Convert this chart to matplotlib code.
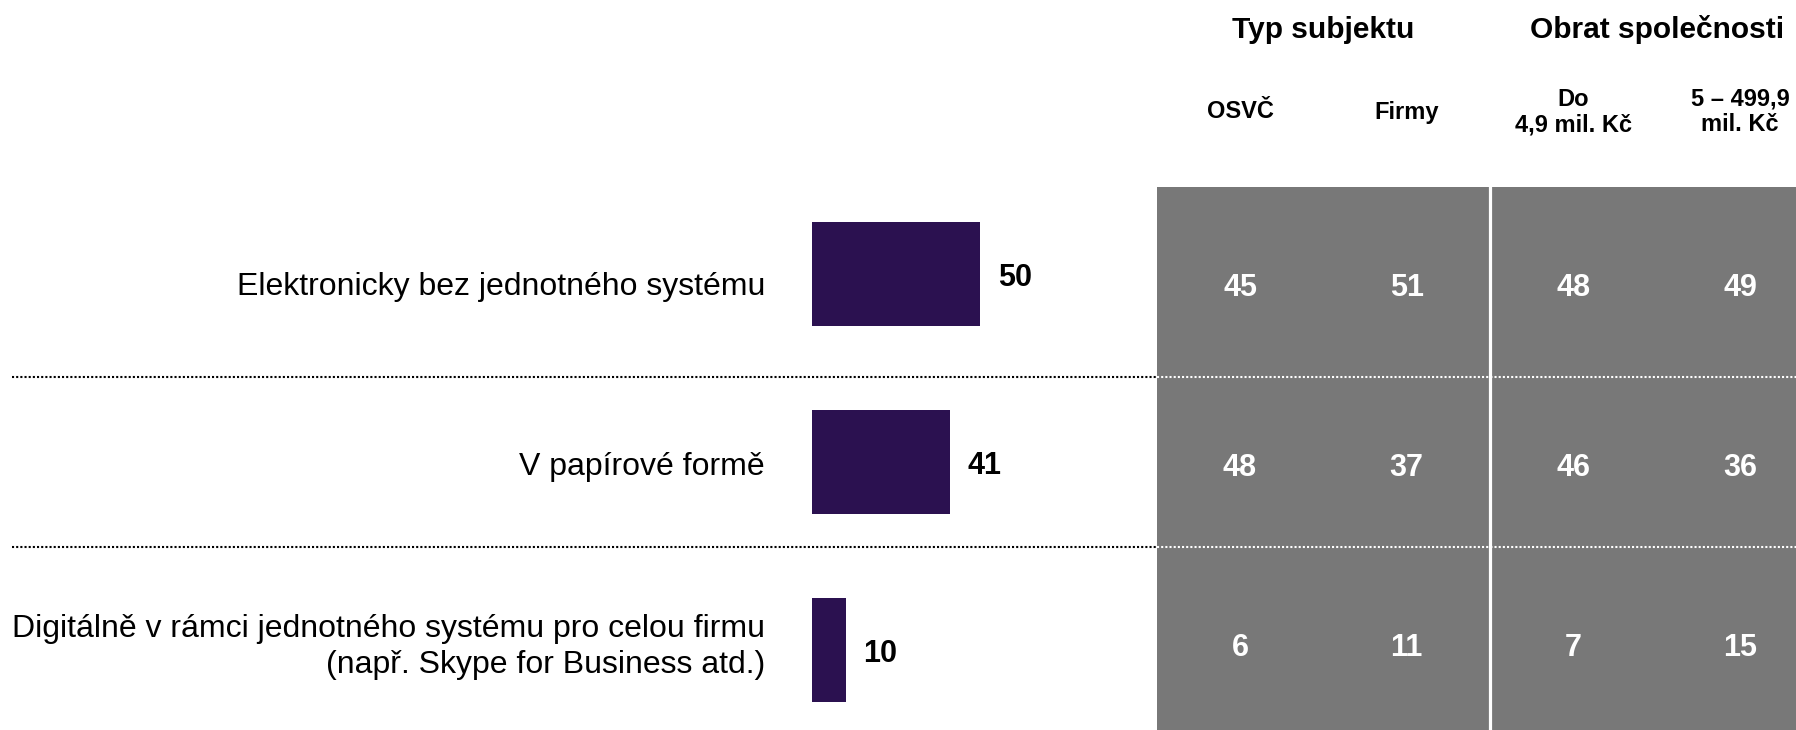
import matplotlib
matplotlib.use('Agg')
from matplotlib import pyplot as plt
from matplotlib import transforms

plt.rcParams['font.family'] = ['Liberation Sans', 'DejaVu Sans']

# data
categories = ['Elektronicky bez jednotného systému',
              'V papírové formě',
              'Digitálně v rámci jednotného systému pro celou firmu\n(např. Skype for Business atd.)']
totals = [50, 41, 10]

group_headers = ['Typ subjektu', 'Obrat společnosti']
segments = ['OSVČ', 'Firmy', 'Do\n4,9 mil. Kč', '5 – 499,9\nmil. Kč']
osvc = [45, 48, 6]
firmy = [51, 37, 11]
do_49 = [48, 46, 7]
do_499 = [49, 36, 15]
segment_values = [osvc, firmy, do_49, do_499]

bar_color = '#2b1150'
grey = '#787878'

W, H = 1796, 730
fig = plt.figure(figsize=(W / 100, H / 100), dpi=100)

def px_axes(left, top, width, height):
    return fig.add_axes([left / W, 1 - (top + height) / H, width / W, height / H])

# bars: 3.36 px per percent, 188 px between rows
bar_px = 3.36
ax_bar = px_axes(812, 180, 330, 550)
ax_bar.barh(range(len(totals)), totals, height=0.548, color=bar_color)
for i, v in enumerate(totals):
    ax_bar.text(v + 5.3, i + 3.5 / 188, str(v), ha='left', va='center',
                fontsize=22, fontweight='bold', color='black')
ax_bar.set_xlim(0, 330 / bar_px)
ax_bar.set_ylim(2 + 80 / 188, -0.5)
ax_bar.axis('off')

# grey table of segments: 166.7 px per column, 180 px per row
col_w, row_h = 166.7, 180
ax_grid = px_axes(1240 - col_w / 2, 187, W - (1240 - col_w / 2), H - 187)
ax_grid.set_xlim(-0.5, -0.5 + ax_grid.get_position().width * W / col_w)
ax_grid.set_ylim((730 - 285) / row_h, -(285 - 187) / row_h)
ax_grid.set_facecolor(grey)
ax_grid.set_xticks([])
ax_grid.set_yticks([])
for s in ax_grid.spines.values():
    s.set_visible(False)
ax_grid.axvline(1.5, color='white', lw=2.3)
for j, col in enumerate(segment_values):
    for i, v in enumerate(col):
        ax_grid.text(j, i + 3 / row_h, str(v), ha='center', va='center',
                     fontsize=22, fontweight='bold', color='white')

# overlay in figure pixels for lines and headers
ov = fig.add_axes([0, 0, 1, 1])
ov.set_xlim(0, W)
ov.set_ylim(H, 0)
ov.axis('off')
ov.patch.set_visible(False)

for y in [377, 547]:
    ov.plot([12, 1157], [y, y], color='black', lw=1.5, linestyle=(0, (1, 1)))
    ov.plot([1157, W], [y, y], color='white', lw=1.5, linestyle=(0, (1, 1)))

# category labels aligned with table rows
lab_tr = transforms.blended_transform_factory(ov.transData, ax_grid.transData)
for i, c in enumerate(categories):
    ov.text(765, i + 2 / row_h, c, transform=lab_tr, ha='right', va='center',
            fontsize=23, linespacing=1.3)

head_tr = transforms.blended_transform_factory(ax_grid.transData, ov.transData)
for k, g in enumerate(group_headers):
    ov.text(2 * k + 0.5, 30, g, transform=head_tr, ha='center', va='center',
            fontsize=21.5, fontweight='bold')
for j, s in enumerate(segments):
    ov.text(j, 112, s, transform=head_tr, ha='center', va='center',
            fontsize=17, fontweight='bold', linespacing=1.15)

plt.savefig('out.png', dpi=100)
